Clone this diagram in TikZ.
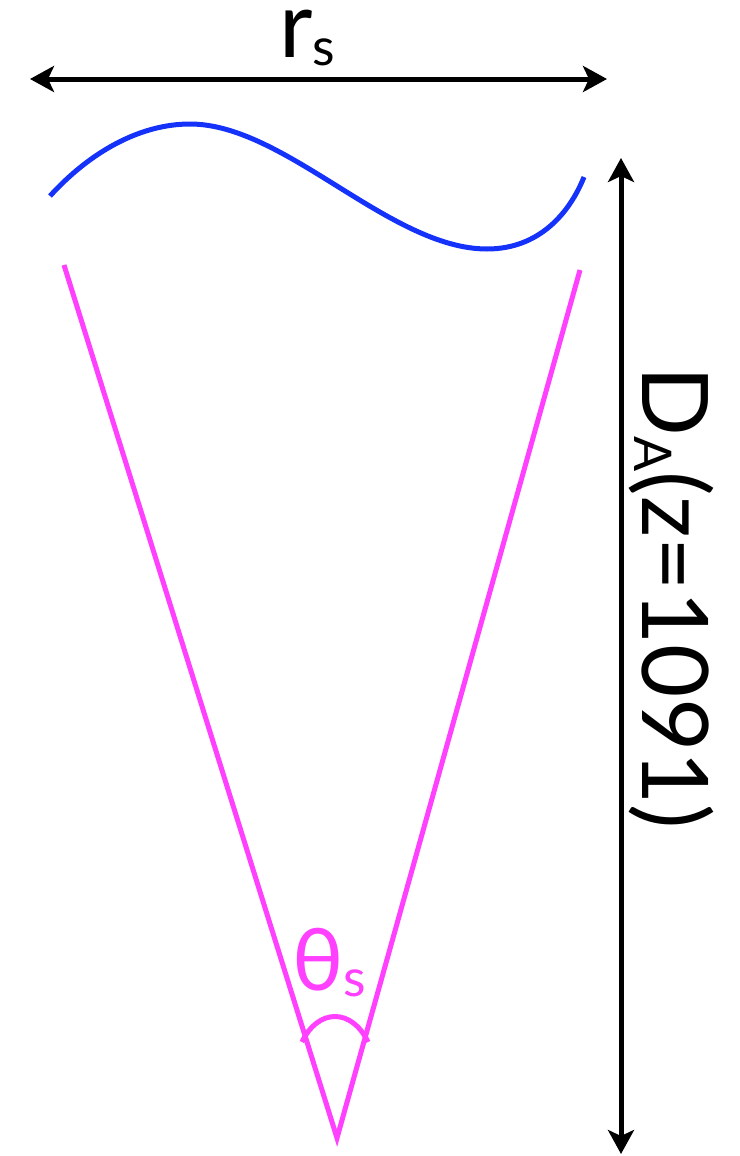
\documentclass[tikz,border=0pt]{standalone}
\usepackage{fontspec}
\setmainfont{Lato}
\usetikzlibrary{arrows.meta}
\definecolor{curveblue}{RGB}{20,50,250}
\definecolor{conemag}{RGB}{255,64,255}
\tikzset{
  dimarrow/.style={line width=5pt, black, {Stealth[length=24pt,width=26pt,inset=6pt]}-{Stealth[length=24pt,width=26pt,inset=6pt]}},
  wave/.style={line width=5pt, curveblue, line cap=butt},
  cone/.style={line width=5pt, conemag, line join=miter},
  bigtxt/.style={inner sep=0pt, font=\fontsize{92}{92}\selectfont}
}
\newcommand{\subtxt}[1]{\raisebox{-0.08em}{\fontsize{52}{52}\selectfont #1}}
\begin{document}
\begin{tikzpicture}[x=1pt,y=-1pt]
\useasboundingbox (0,0) rectangle (739,1156);
% horizontal dimension
\coordinate (hl) at (30,79);
\coordinate (hr) at (607,79);
\draw[dimarrow] (hl) -- (hr);
\node[bigtxt, anchor=base, text height=0.5em] (rs) at (307,58) {r\subtxt{s}};
% vertical dimension
\coordinate (vt) at (621,158);
\coordinate (vb) at (621,1154);
\draw[dimarrow] (vt) -- (vb);
\node[bigtxt, anchor=base, rotate=-90] (da) at (642,598) {D\subtxt{A}(z=1091)};
% wave
\coordinate (w0) at (50,196);
\coordinate (w1) at (190,124);
\coordinate (w2) at (487,249);
\coordinate (w3) at (584,177);
\draw[wave] (w0) .. controls (90,152) and (140,124) .. (w1)
  .. controls (285,124) and (390,249) .. (w2)
  .. controls (540,249) and (570,212) .. (w3);
% cone
\coordinate (cl) at (64,265);
\coordinate (cr) at (580,270);
\coordinate (apex) at (337,1138);
\draw[cone] (cl) -- (apex) -- (cr);
\coordinate (al) at (302,1042);
\coordinate (ar) at (368,1042);
\draw[cone] (al) .. controls (318,1008) and (352,1008) .. (ar);
\node[bigtxt, anchor=base west, text=conemag, font=\fontsize{86}{86}\selectfont] (th) at (292,990) {θ\subtxt{s}};
\end{tikzpicture}
\end{document}
